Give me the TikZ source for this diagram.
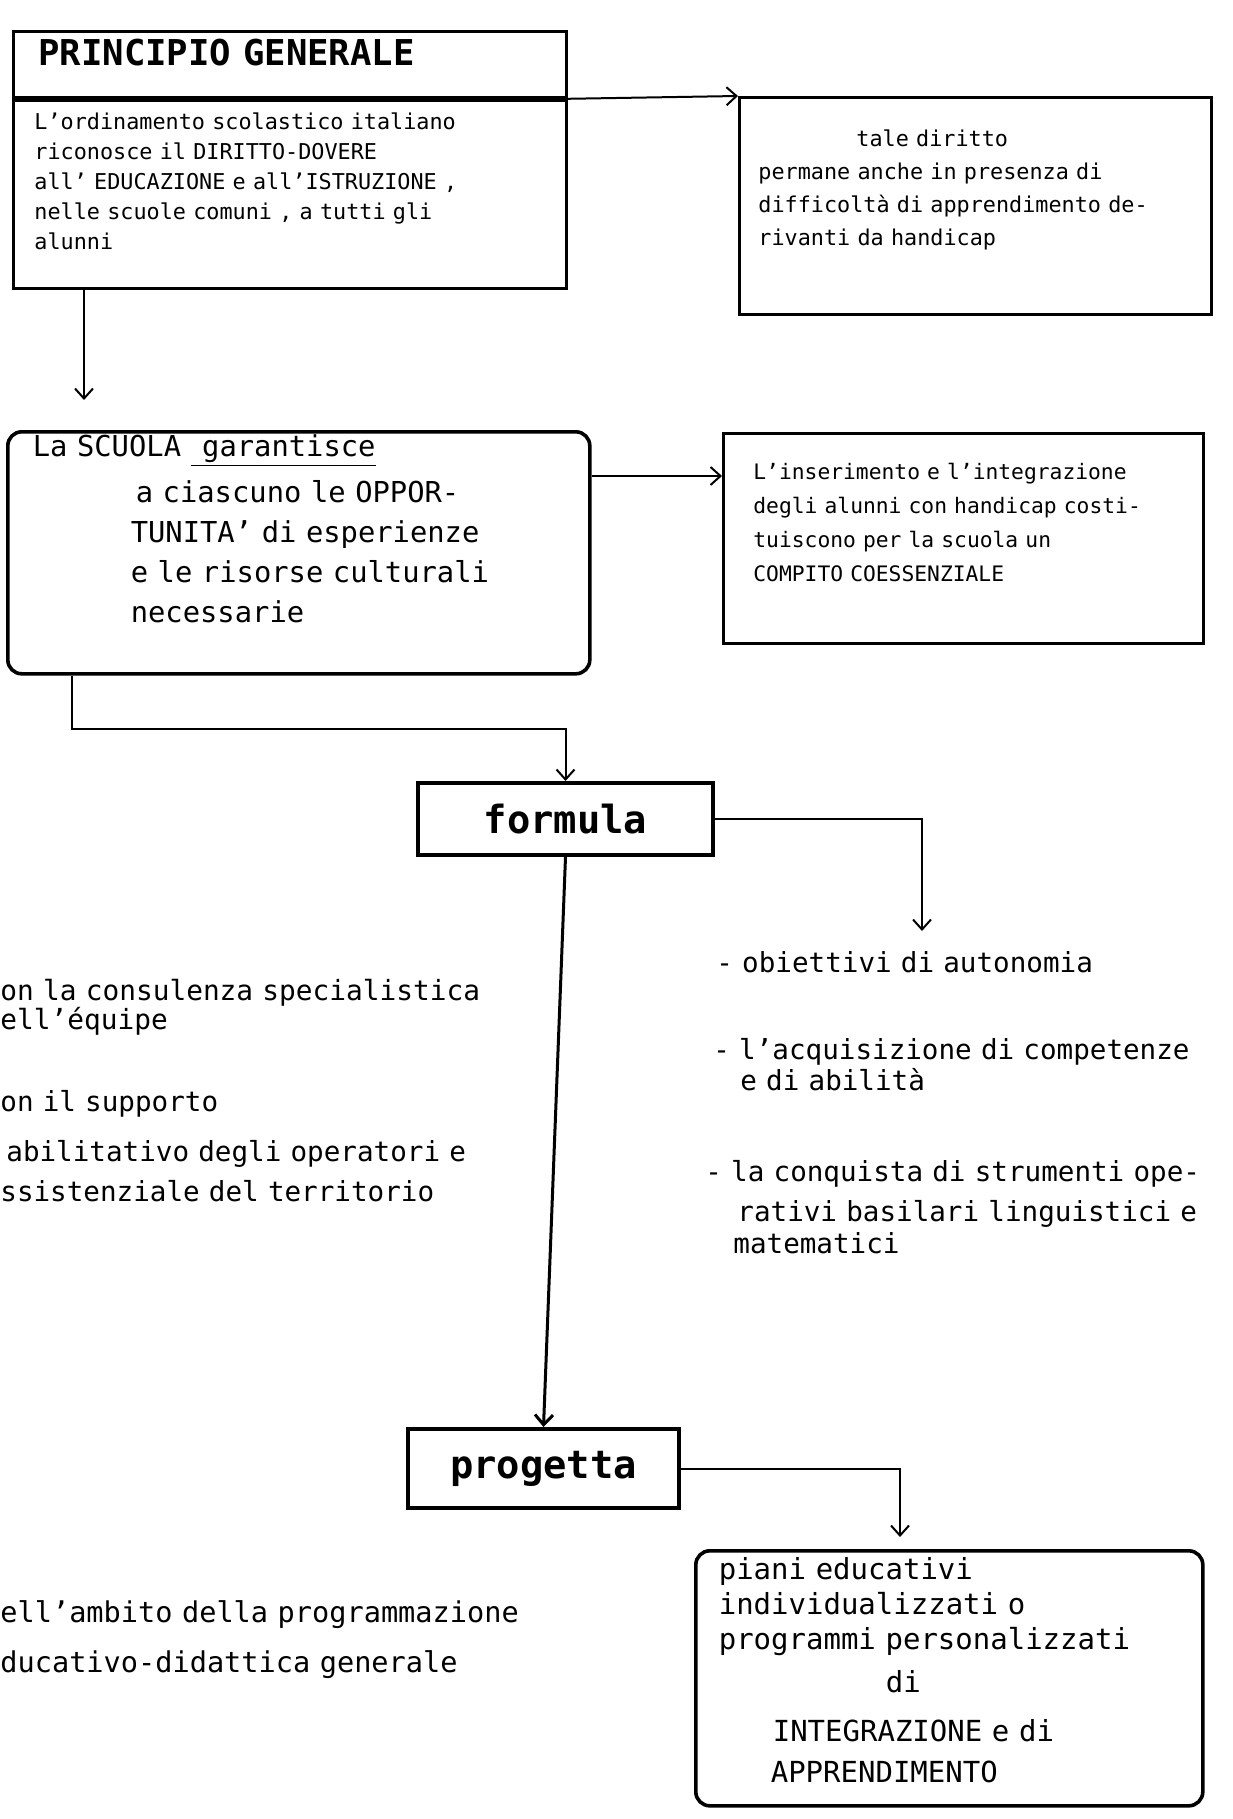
\documentclass[tikz,border=0pt]{standalone}
\usepackage{fontspec}
\setmainfont{DejaVu Sans Mono}
\usepackage{tikz}
\usetikzlibrary{positioning}
\usetikzlibrary{calc}
\usetikzlibrary{arrows.meta}

\tikzset{
  box/.style={draw, line width=1.4pt, anchor=north west, align=left, inner ysep=0pt},
  roundbox/.style={box, line width=1.8pt, rounded corners=7pt},
  actbox/.style={draw, line width=2pt, inner sep=0pt, font=\fontsize{19.4}{23}\bfseries\selectfont},
  note/.style={anchor=base west, inner sep=0pt, align=left, text width=290pt},
  conn/.style={line width=1pt, -{Straight Barb[length=5pt,width=9pt]}}
}

\begin{document}
\begin{tikzpicture}[x=0.5pt, y=-0.5pt]
\fill[white] (0,0) rectangle (1232,1819);
\useasboundingbox (0,0) rectangle (1232,1819);

% principio generale
\node[box, text width=251.5pt, inner xsep=12.5pt, text height=17pt, text depth=16pt,
  font=\fontsize{17.8}{20}\bfseries\selectfont] (princtitle) at (12,30) {PRINCIPIO GENERALE};
\node[box, text width=255.5pt, inner xsep=10.5pt, text height=14.5pt, text depth=79.5pt,
  font=\fontsize{10.9}{15}\selectfont] (princ) at (princtitle.south west) {L'ordinamento scolastico italiano\\
riconosce il DIRITTO-DOVERE\\
all' EDUCAZIONE e all'ISTRUZIONE ,\\
nelle scuole comuni , a tutti gli\\
alunni};

\node[box, text width=217pt, inner xsep=9.5pt, text height=24.5pt, text depth=84pt,
  font=\fontsize{10.9}{16.5}\selectfont] (tale) at (738,96) {\hspace*{49pt}tale diritto\\
permane anche in presenza di\\
difficoltà di apprendimento de-\\
rivanti da handicap};

% la scuola
\node[roundbox, text width=266pt, inner xsep=12.5pt, text height=12.5pt, text depth=108.5pt,
  font=\fontsize{14.4}{20}\selectfont] (scuola) at (6,430) {La SCUOLA \underline{\hspace{0.4em}garantisce}\\[3pt]
\hspace*{51.5pt}a ciascuno le OPPOR-\\
\hspace*{49pt}TUNITA' di esperienze\\
\hspace*{49pt}e le risorse culturali\\
\hspace*{49pt}necessarie};

\node[box, text width=210pt, inner xsep=15pt, text height=23pt, text depth=82pt,
  font=\fontsize{10.65}{17}\selectfont] (inser) at (722,432) {L'inserimento e l'integrazione\\
degli alunni con handicap costi-\\
tuiscono per la scuola un\\
COMPITO COESSENZIALE};

% formula / progetta
\node[actbox, minimum width=147.5pt, minimum height=36pt] (formula) at (565.5,819) {formula};
\node[actbox, minimum width=135.5pt, minimum height=39.5pt] (progetta) at (543.5,1468.5) {progetta};

\node[note, font=\fontsize{13.9}{14.5}\selectfont] (consul) at (0,1000) {on la consulenza specialistica\\
ell'équipe};
\node[note, font=\fontsize{13.8}{20}\selectfont] (supporto) at (0,1111) {on il supporto\\[5pt]
\hspace*{3pt}abilitativo degli operatori e\\
ssistenziale del territorio};

\node[note, font=\fontsize{13.8}{15.5}\selectfont] (obiet) at (716,972) {- obiettivi di autonomia};
\node[note, font=\fontsize{13.8}{15.5}\selectfont] (acquis) at (713,1059) {- l'acquisizione di competenze\\
\hspace*{13.5pt}e di abilità};
\node[note, font=\fontsize{13.8}{16}\selectfont] (conq) at (705,1181) {- la conquista di strumenti ope-\\[4pt]
\hspace*{16pt}rativi basilari linguistici e\\
\hspace*{14pt}matematici};

\node[note, font=\fontsize{14.3}{25}\selectfont] (ambito) at (0,1622) {ell'ambito della programmazione\\
ducativo-didattica generale};

\node[roundbox, text width=230.5pt, inner xsep=11.5pt, text height=14.5pt, text depth=113pt,
  font=\fontsize{14.5}{17.5}\selectfont] (piani) at (694,1549) {piani educativi\\
individualizzati o\\
programmi personalizzati\\[4pt]
\hspace*{83.5pt}di\\[7pt]
\hspace*{27pt}INTEGRAZIONE e di\\[3pt]
\hspace*{26pt}APPRENDIMENTO};

% connectors
\coordinate (c1) at (84,400);
\coordinate (c2) at (0,476);
\coordinate (c4) at (922,931);
\coordinate (c5) at (900,1537);

\draw[conn] (princtitle.south east) -- (tale.north west);
\draw[conn] (c1 |- princ.south) -- (c1);
\draw[conn] (scuola.east |- c2) -- (inser.west |- c2);
\draw[conn] ($(scuola.south west)+(66,0)$) |- ($(formula.north)+(0,-52)$) -- (formula.north);
\draw[conn] (formula.east) -| (c4);
\draw[conn, line width=1.5pt] (formula.south) -- (progetta.north);
\draw[conn] (progetta.east) -| (c5);
\end{tikzpicture}
\end{document}
